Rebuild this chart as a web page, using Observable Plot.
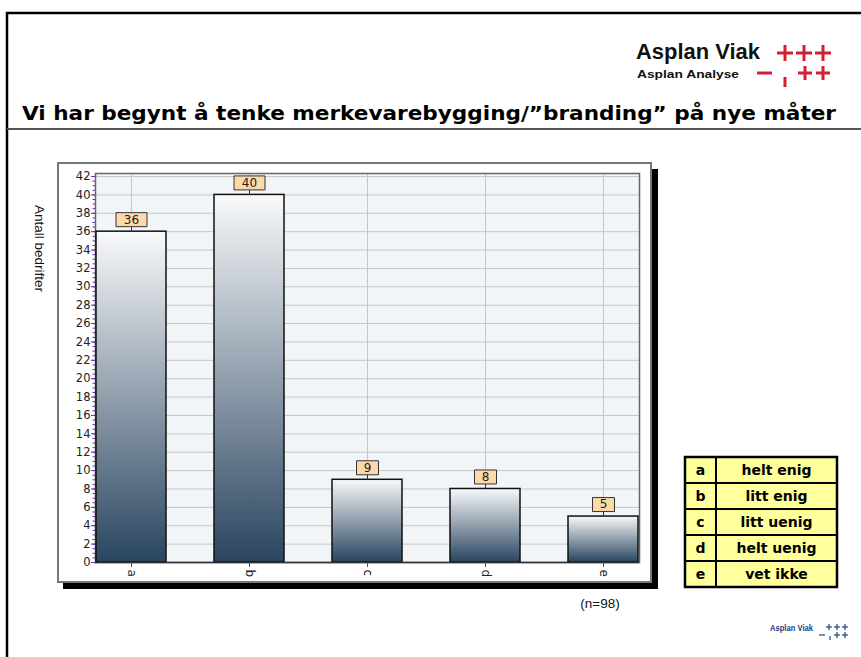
<!DOCTYPE html>
<html>
<head>
<meta charset="utf-8">
<script src="https://cdn.jsdelivr.net/npm/d3@7"></script>
<script src="https://cdn.jsdelivr.net/npm/@observablehq/plot@0.6"></script>
<style>
  html, body { margin: 0; padding: 0; background: #fff; }
  #page { position: relative; width: 861px; height: 657px; overflow: hidden; background: #fff; }
  #deco { position: absolute; left: 0; top: 0; }
  #chart { position: absolute; left: 20px; top: 160px; }
</style>
</head>
<body>
<div id="page">
  <svg id="deco" width="861" height="657"></svg>
  <div id="chart"></div>
</div>
<script>
// ---- Data ----
const categories = ["a", "b", "c", "d", "e"];
const values = [36, 40, 9, 8, 5];
const legendLabels = ["helt enig", "litt enig", "litt uenig", "helt uenig", "vet ikke"];
const yTicks = [0, 2, 4, 6, 8, 10, 12, 14, 16, 18, 20, 22, 24, 26, 28, 30, 32, 34, 36, 38, 40, 42];
const yMinorTicks = d3.range(0, 42.01, 0.5);
const titleText = "Vi har begynt å tenke merkevarebygging/\u201dbranding\u201d på nye måter";
const yLabel = "Antall bedrifter";
const noteText = "(n=98)";
const logoMain = "Asplan Viak";
const logoSub = "Asplan  Analyse";

const data = categories.map((c, i) => ({cat: c, value: values[i]}));

// ---- Decorations (page frame, title, logos, panel, legend) ----
const deco = d3.select("#deco");
// page frame
deco.append("line").attr("x1", 7).attr("y1", 12).attr("x2", 7).attr("y2", 657).attr("stroke", "#000").attr("stroke-width", 2.5);
deco.append("line").attr("x1", 6).attr("y1", 13).attr("x2", 861).attr("y2", 13).attr("stroke", "#000").attr("stroke-width", 2.5);
// title
deco.append("text").attr("x", 22).attr("y", 120)
  .attr("font-family", "DejaVu Sans").attr("font-weight", "bold").attr("font-size", 20)
  .attr("textLength", 814).attr("lengthAdjust", "spacingAndGlyphs").attr("fill", "#000")
  .text(titleText);
deco.append("line").attr("x1", 7).attr("y1", 129).attr("x2", 861).attr("y2", 129).attr("stroke", "#555").attr("stroke-width", 2);

// top logo
deco.append("text").attr("x", 636).attr("y", 59).attr("font-family", "Liberation Sans").attr("font-weight", "bold")
  .attr("font-size", 22).attr("textLength", 124).attr("lengthAdjust", "spacingAndGlyphs").attr("fill", "#111").text(logoMain);
deco.append("text").attr("x", 637).attr("y", 78).attr("font-family", "Liberation Sans").attr("font-weight", "bold")
  .attr("font-size", 11.5).attr("textLength", 102).attr("lengthAdjust", "spacingAndGlyphs").attr("fill", "#111").text(logoSub);
function cross(g, cx, cy, s, w, color) {
  g.append("line").attr("x1", cx - s).attr("x2", cx + s).attr("y1", cy).attr("y2", cy).attr("stroke", color).attr("stroke-width", w);
  g.append("line").attr("x1", cx).attr("x2", cx).attr("y1", cy - s).attr("y2", cy + s).attr("stroke", color).attr("stroke-width", w);
}
const red = "#d21f32";
[785, 804, 823].forEach(cx => cross(deco, cx, 53, 8, 3, red));
[805, 823].forEach(cx => cross(deco, cx, 73, 7, 3, red));
deco.append("line").attr("x1", 757).attr("x2", 772).attr("y1", 73).attr("y2", 73).attr("stroke", red).attr("stroke-width", 3);
deco.append("line").attr("x1", 785).attr("x2", 785).attr("y1", 77).attr("y2", 87).attr("stroke", red).attr("stroke-width", 3);

// bottom logo
const blue = "#23407e";
deco.append("text").attr("x", 770).attr("y", 631).attr("font-family", "Liberation Sans").attr("font-weight", "bold")
  .attr("font-size", 8.5).attr("textLength", 43).attr("lengthAdjust", "spacingAndGlyphs").attr("fill", blue).text(logoMain);
[829, 837, 845].forEach(cx => cross(deco, cx, 627, 3, 1.2, blue));
[837, 845].forEach(cx => cross(deco, cx, 635, 3, 1.2, blue));
deco.append("line").attr("x1", 819).attr("x2", 825).attr("y1", 635).attr("y2", 635).attr("stroke", blue).attr("stroke-width", 1.2);
deco.append("line").attr("x1", 830).attr("x2", 830).attr("y1", 636).attr("y2", 640).attr("stroke", blue).attr("stroke-width", 1.2);

// chart panel with shadow
deco.append("rect").attr("x", 652).attr("y", 169).attr("width", 6).attr("height", 420).attr("fill", "#000");
deco.append("rect").attr("x", 63).attr("y", 583).attr("width", 595).attr("height", 6).attr("fill", "#000");
deco.append("rect").attr("x", 58).attr("y", 163).attr("width", 593).attr("height", 419)
  .attr("fill", "#fff").attr("stroke", "#777").attr("stroke-width", 2);

// y axis label
deco.append("text").attr("transform", "translate(35,205) rotate(90)")
  .attr("font-family", "Liberation Sans").attr("font-size", 13.5).attr("fill", "#111").text(yLabel);

// note
deco.append("text").attr("x", 600).attr("y", 608).attr("text-anchor", "middle")
  .attr("font-family", "Liberation Sans").attr("font-size", 13.5).attr("fill", "#111").text(noteText);

// legend table
const lg = deco.append("g");
const lx0 = 685, lx1 = 716, lx2 = 837, ly0 = 457, rowH = 26;
categories.forEach((c, i) => {
  const y = ly0 + i * rowH;
  lg.append("rect").attr("x", lx0).attr("y", y).attr("width", lx2 - lx0).attr("height", rowH)
    .attr("fill", "#ffff9c").attr("stroke", "#000").attr("stroke-width", 2);
  lg.append("text").attr("x", (lx0 + lx1) / 2).attr("y", y + rowH / 2 + 5).attr("text-anchor", "middle")
    .attr("font-family", "DejaVu Sans").attr("font-weight", "bold").attr("font-size", 14).text(c);
  lg.append("text").attr("x", (lx1 + lx2) / 2).attr("y", y + rowH / 2 + 5).attr("text-anchor", "middle")
    .attr("font-family", "DejaVu Sans").attr("font-weight", "bold").attr("font-size", 14).text(legendLabels[i]);
});
lg.append("line").attr("x1", lx1).attr("x2", lx1).attr("y1", ly0).attr("y2", ly0 + rowH * categories.length).attr("stroke", "#000").attr("stroke-width", 2);
lg.append("rect").attr("x", lx0).attr("y", ly0).attr("width", lx2 - lx0).attr("height", rowH * categories.length)
  .attr("fill", "none").attr("stroke", "#000").attr("stroke-width", 2.5);

// ---- Plot ----
const boxSymbol = w => ({
  draw(ctx) {
    ctx.moveTo(-w / 2, -19); ctx.lineTo(w / 2, -19); ctx.lineTo(w / 2, -5); ctx.lineTo(-w / 2, -5); ctx.closePath();
    ctx.moveTo(0, -5); ctx.lineTo(0, 0);
  }
});
const purple = "#6a35a8";

const chart = Plot.plot({
  width: 640,
  height: 440,
  marginLeft: 75,
  marginRight: 21,
  marginTop: 13,
  marginBottom: 38,
  style: {background: "transparent", fontFamily: "DejaVu Sans", fontSize: "11.5px", color: "#222"},
  x: {domain: categories, paddingInner: 0.41, paddingOuter: 0},
  y: {domain: [0, 42.33]},
  marks: [
    () => {
      const defs = d3.create("svg:defs");
      const g = defs.append("linearGradient").attr("id", "barGrad").attr("x1", 0).attr("y1", 0).attr("x2", 0).attr("y2", 1);
      g.append("stop").attr("offset", "0%").attr("stop-color", "#f8f9fa");
      g.append("stop").attr("offset", "100%").attr("stop-color", "#2a4560");
      return defs.node();
    },
    Plot.frame({fill: "#f2f5f7", stroke: null}),
    Plot.gridY(yTicks, {stroke: "#c6c6c6", strokeOpacity: 1, strokeWidth: 1}),
    Plot.gridX(categories, {stroke: "#c6c6c6", strokeOpacity: 1, strokeWidth: 1}),
    Plot.frame({stroke: "#666", strokeWidth: 1.5}),
    Plot.axisY(yMinorTicks, {tickSize: 2.5, text: null, stroke: purple, label: null}),
    Plot.axisY(yTicks, {tickSize: 4, tickPadding: 1, stroke: purple, fill: "#222", label: null}),
    Plot.axisX(categories, {tickSize: 5, tickPadding: 2, tickRotate: 90, stroke: purple, fill: "#222", label: null, fontSize: 12}),
    Plot.barY(data, {x: "cat", y: "value", fill: "url(#barGrad)", stroke: "#111", strokeWidth: 1.5}),
    Plot.ruleX([0], {stroke: "#333", strokeWidth: 1.5}),
    Plot.ruleY([0], {stroke: "#333", strokeWidth: 1.5}),
    Plot.dot(data.filter(d => String(d.value).length > 1), {x: "cat", y: "value", symbol: boxSymbol(31), fill: "#fcd9a8", stroke: "#333", strokeWidth: 1}),
    Plot.dot(data.filter(d => String(d.value).length === 1), {x: "cat", y: "value", symbol: boxSymbol(22), fill: "#fcd9a8", stroke: "#333", strokeWidth: 1}),
    Plot.text(data, {x: "cat", y: "value", text: d => String(d.value), dy: -12, fontSize: 12, fill: "#222"})
  ]
});
document.getElementById("chart").appendChild(chart);
</script>
</body>
</html>
